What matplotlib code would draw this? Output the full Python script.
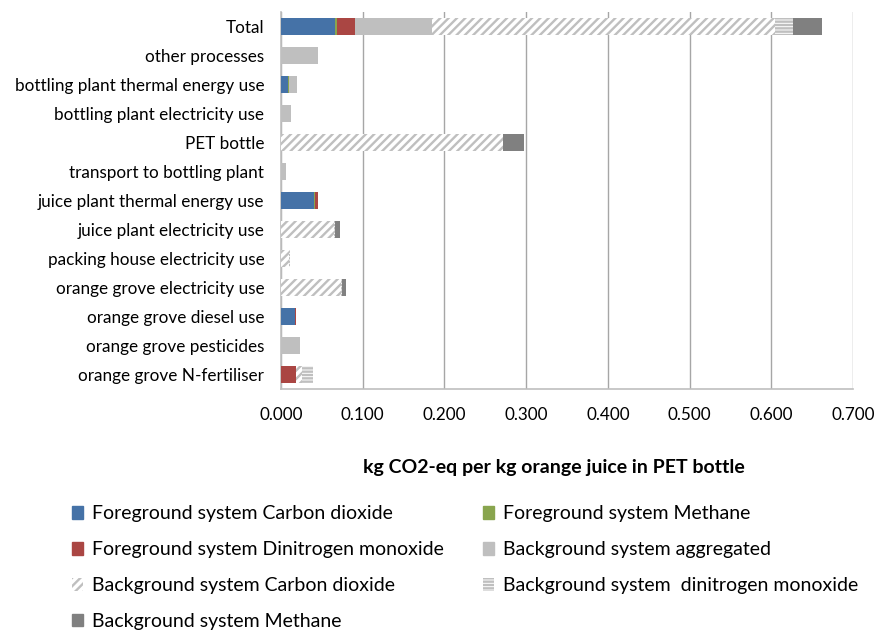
import matplotlib
matplotlib.use("Agg")
import matplotlib.pyplot as plt
from matplotlib.patches import Patch
import numpy as np

plt.rcParams['font.family'] = ['Lato', 'DejaVu Sans']
plt.rcParams['hatch.linewidth'] = 1.7

categories = [
    "Total",
    "other processes",
    "bottling plant thermal energy use",
    "bottling plant electricity use",
    "PET bottle",
    "transport to bottling plant",
    "juice plant thermal energy use",
    "juice plant electricity use",
    "packing house electricity use",
    "orange grove electricity use",
    "orange grove diesel use",
    "orange grove pesticides",
    "orange grove N-fertiliser",
]

fg_co2 = [0.066, 0.000, 0.0086, 0.000, 0.000, 0.000, 0.040, 0.000, 0.000, 0.000, 0.017, 0.000, 0.000]
fg_ch4 = [0.003, 0.000, 0.0010, 0.000, 0.000, 0.000, 0.002, 0.000, 0.000, 0.000, 0.000, 0.000, 0.000]
fg_n2o = [0.021, 0.000, 0.000, 0.000, 0.0005, 0.000, 0.003, 0.000, 0.000, 0.000, 0.001, 0.000, 0.018]
bg_agg = [0.095, 0.045, 0.0105, 0.012, 0.000, 0.0065, 0.000, 0.000, 0.000, 0.000, 0.000, 0.023, 0.000]
bg_co2 = [0.419, 0.000, 0.000, 0.000, 0.271, 0.000, 0.000, 0.065, 0.010, 0.073, 0.000, 0.000, 0.0073]
bg_n2o = [0.022, 0.000, 0.000, 0.000, 0.000, 0.000, 0.000, 0.001, 0.001, 0.0015, 0.000, 0.000, 0.0135]
bg_ch4 = [0.0355, 0.000, 0.000, 0.000, 0.026, 0.000, 0.000, 0.0058, 0.000, 0.005, 0.000, 0.000, 0.000]

series = [
    ("Foreground system Carbon dioxide", fg_co2, dict(color="#4572A7")),
    ("Foreground system Methane", fg_ch4, dict(color="#89A54E")),
    ("Foreground system Dinitrogen monoxide", fg_n2o, dict(color="#AA4643")),
    ("Background system aggregated", bg_agg, dict(color="#BFBFBF")),
    ("Background system Carbon dioxide", bg_co2, dict(facecolor="white", edgecolor="#BFBFBF", hatch="////", linewidth=0)),
    ("Background system  dinitrogen monoxide", bg_n2o, dict(facecolor="white", edgecolor="#BFBFBF", hatch="-----", linewidth=0)),
    ("Background system Methane", bg_ch4, dict(color="#808080")),
]

fig = plt.figure(figsize=(8.75, 6.3), dpi=100)
ax = fig.add_axes([281 / 875, 1 - 389 / 630, (853 - 281) / 875, (389 - 12) / 630])

y = np.arange(len(categories))
left = np.zeros(len(categories))
handles = {}
for name, vals, style in series:
    vals = np.array(vals)
    ax.barh(y, vals, left=left, height=0.6, zorder=3, **style)
    handles[name] = Patch(label=name, **style)
    left += vals

ax.set_ylim(len(categories) - 0.5, -0.5)
ax.set_xlim(0, 0.7)
ax.set_yticks(y)
ax.set_yticklabels(categories, fontsize=12.3)
xt = np.arange(0, 0.71, 0.1)
ax.set_xticks(xt)
ax.set_xticklabels([f"{v:.3f}" for v in xt], fontsize=12.3)
ax.tick_params(axis="y", length=0, pad=12)
ax.tick_params(axis="x", length=0, pad=13)
ax.grid(axis="x", color="#A6A6A6", linewidth=1, zorder=0)
for s in ["top", "right"]:
    ax.spines[s].set_visible(False)
for s in ["left", "bottom"]:
    ax.spines[s].set_color("#BFBFBF")
    ax.spines[s].set_linewidth(1.2)
ax.set_xlabel("kg CO2-eq per kg orange juice in PET bottle", fontsize=14,
              fontweight="bold")
ax.xaxis.set_label_coords(0.477, -0.187)

order = [
    "Foreground system Carbon dioxide",
    "Foreground system Dinitrogen monoxide",
    "Background system Carbon dioxide",
    "Background system Methane",
    "Foreground system Methane",
    "Background system aggregated",
    "Background system  dinitrogen monoxide",
]
fig.legend([handles[n] for n in order], order, ncol=2, loc="upper left",
           bbox_to_anchor=(54 / 875, 1 - 488 / 630), frameon=False,
           fontsize=14, handlelength=0.6, handleheight=0.6,
           handletextpad=0.45, columnspacing=2.0, labelspacing=0.97)

fig.savefig("out.png", dpi=100)
